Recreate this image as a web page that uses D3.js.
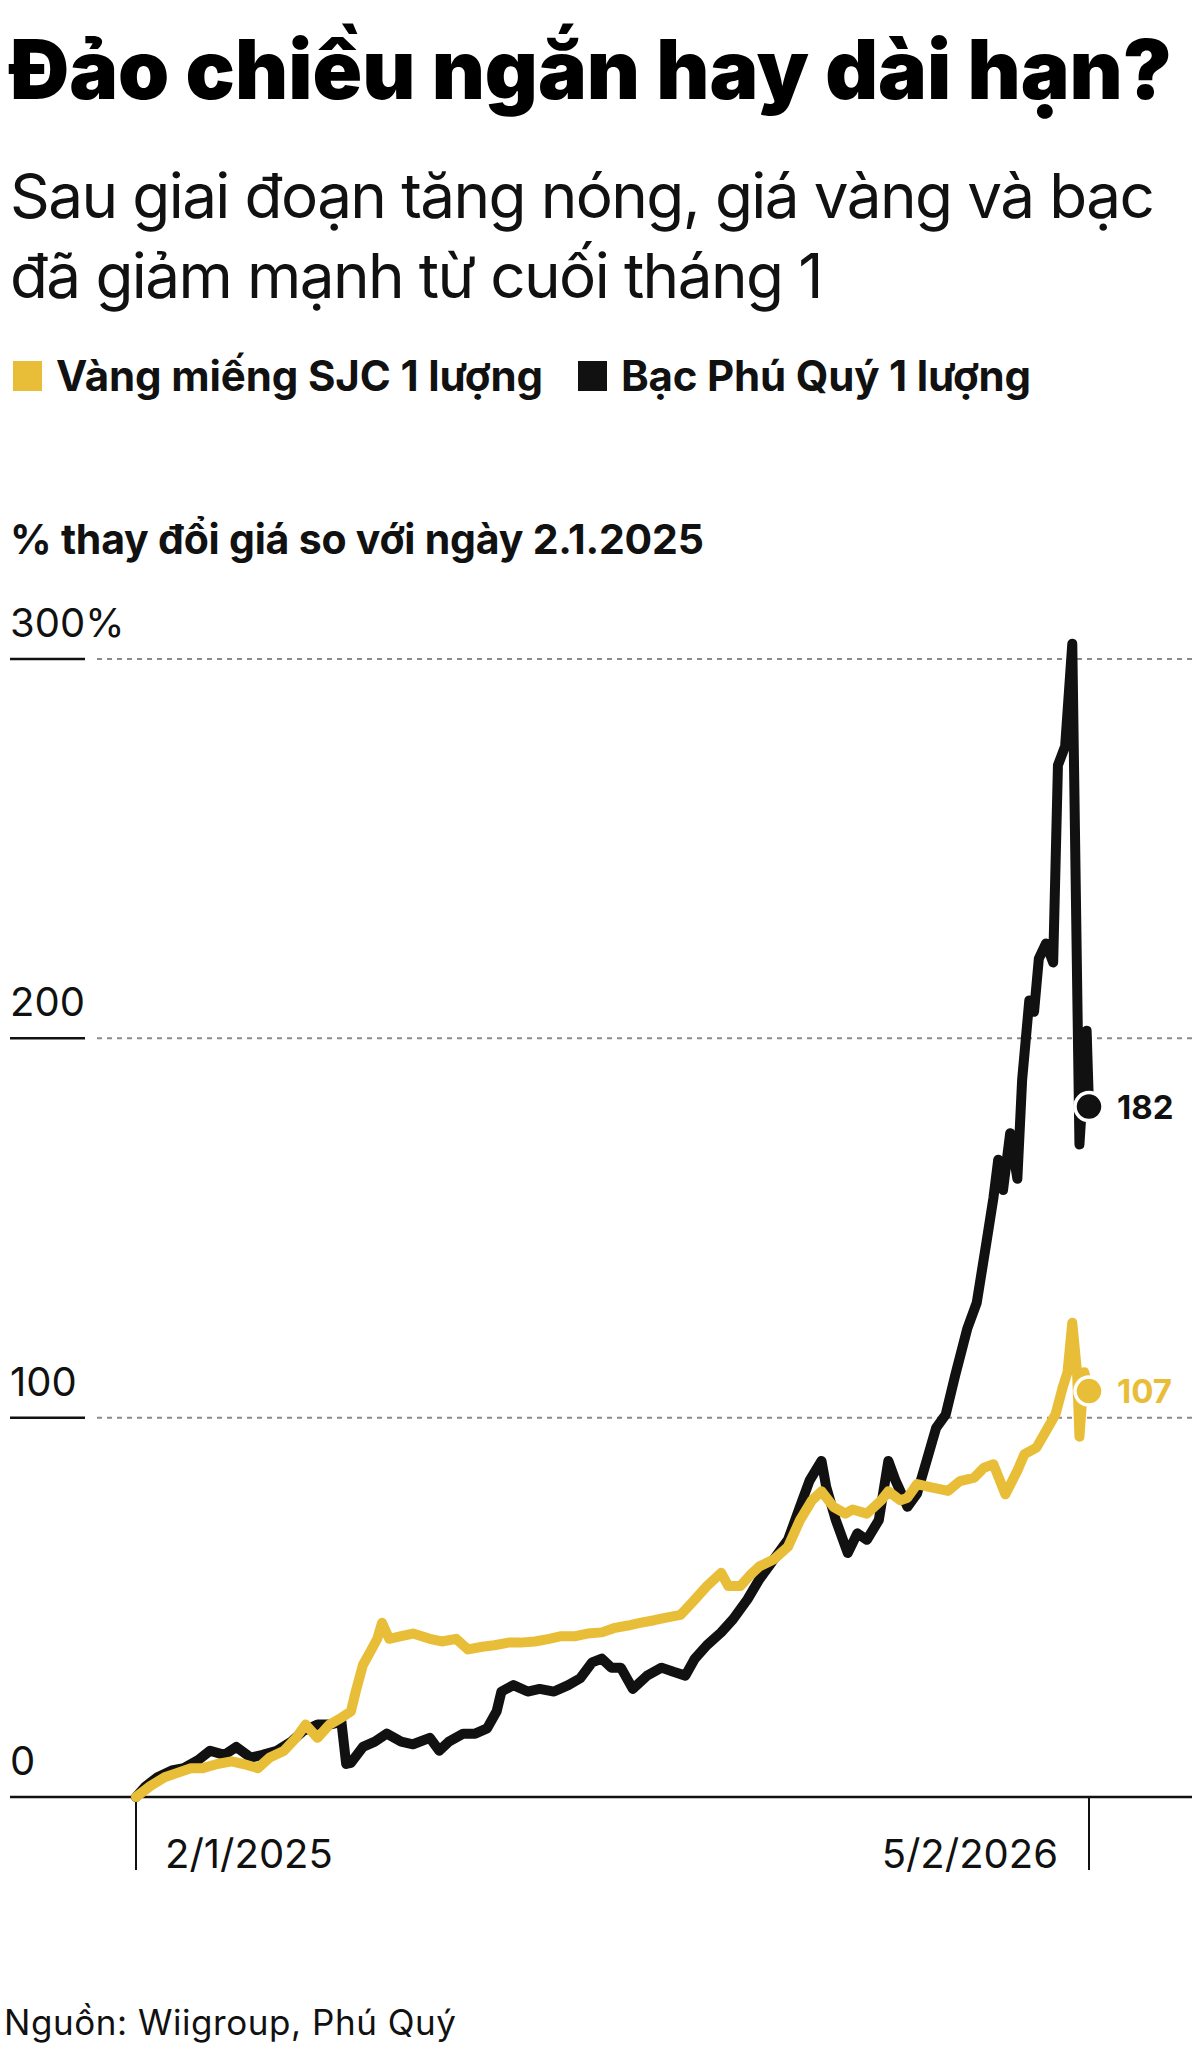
<!DOCTYPE html>
<html><head><meta charset="utf-8">
<script src="https://cdn.jsdelivr.net/npm/d3@7"></script>
<style>
html,body{margin:0;padding:0;background:#fff;}
svg{display:block;font-family:Inter,"Noto Sans",sans-serif;}
</style></head>
<body><svg id="c" width="1200" height="2072"></svg>
<script>
// ---------- DATA ----------
const titleText = "Đảo chiều ngắn hay dài hạn?";
const subtitleLines = ["Sau giai đoạn tăng nóng, giá vàng và bạc", "đã giảm mạnh từ cuối tháng 1"];
const seriesNames = ["Vàng miếng SJC 1 lượng", "Bạc Phú Quý 1 lượng"];
const axisTitle = "% thay đổi giá so với ngày 2.1.2025";
const yTicks = [0, 100, 200, 300];
const yTickLabels = ["0", "100", "200", "300%"];
const xTicks = ["2025-01-02", "2026-02-05"];
const xTickLabels = ["2/1/2025", "5/2/2026"];
const sourceText = "Nguồn: Wiigroup, Phú Quý";

const silverDates = ["2025-01-02","2025-01-06","2025-01-11","2025-01-17","2025-01-22","2025-01-28","2025-02-02","2025-02-08","2025-02-13","2025-02-19","2025-02-24","2025-03-02","2025-03-08","2025-03-13","2025-03-19","2025-03-24","2025-03-29","2025-03-31","2025-04-02","2025-04-07","2025-04-12","2025-04-17","2025-04-23","2025-04-28","2025-05-05","2025-05-09","2025-05-13","2025-05-19","2025-05-24","2025-05-29","2025-06-02","2025-06-04","2025-06-09","2025-06-15","2025-06-20","2025-06-26","2025-07-02","2025-07-07","2025-07-12","2025-07-16","2025-07-20","2025-07-24","2025-07-29","2025-08-04","2025-08-10","2025-08-15","2025-08-20","2025-08-24","2025-08-29","2025-09-04","2025-09-09","2025-09-15","2025-09-20","2025-09-26","2025-10-02","2025-10-07","2025-10-11","2025-10-16","2025-10-18","2025-10-22","2025-10-27","2025-10-31","2025-11-04","2025-11-09","2025-11-13","2025-11-16","2025-11-21","2025-11-25","2025-11-29","2025-12-03","2025-12-07","2025-12-11","2025-12-16","2025-12-20","2025-12-24","2025-12-27","2025-12-29","2025-12-31","2026-01-03","2026-01-06","2026-01-08","2026-01-11","2026-01-13","2026-01-15","2026-01-18","2026-01-21","2026-01-23","2026-01-26","2026-01-29","2026-02-01","2026-02-04","2026-02-05"];
const silverValues = [0,2.8,5.2,7.0,7.6,9.7,12.2,11.1,13.2,10.4,11.1,12.2,14.6,17.4,19.1,19.1,19.8,8.7,9.0,13.2,14.6,16.7,14.6,13.9,15.6,12.2,14.6,16.7,16.7,18.1,22.6,27.8,29.5,27.8,28.5,27.8,29.5,31.3,35.5,36.5,34.1,34.1,28.5,32,34.1,33,32,36.5,40,43.4,46.9,52.1,57.4,62.6,67.8,76.5,83.4,88.6,81.7,73,64.3,69.5,67.8,73,88.6,83.4,76.5,80,88.6,97.3,100.8,111.2,123.4,130.3,146,158,168,160,175,163,189,210,207,221,225,220,272,277,304,172,202,182];

const goldDates = ["2025-01-02","2025-01-08","2025-01-14","2025-01-19","2025-01-25","2025-01-30","2025-02-05","2025-02-11","2025-02-16","2025-02-22","2025-02-27","2025-03-05","2025-03-10","2025-03-14","2025-03-19","2025-03-24","2025-03-29","2025-04-02","2025-04-04","2025-04-07","2025-04-10","2025-04-13","2025-04-15","2025-04-18","2025-04-23","2025-04-28","2025-05-05","2025-05-10","2025-05-16","2025-05-21","2025-05-27","2025-06-01","2025-06-07","2025-06-12","2025-06-18","2025-06-24","2025-06-29","2025-07-05","2025-07-10","2025-07-16","2025-07-21","2025-07-27","2025-08-01","2025-08-07","2025-08-12","2025-08-18","2025-08-23","2025-08-29","2025-09-04","2025-09-07","2025-09-12","2025-09-16","2025-09-20","2025-09-26","2025-10-02","2025-10-07","2025-10-12","2025-10-16","2025-10-21","2025-10-26","2025-10-29","2025-11-04","2025-11-10","2025-11-13","2025-11-18","2025-11-21","2025-11-25","2025-12-01","2025-12-08","2025-12-13","2025-12-19","2025-12-23","2025-12-27","2026-01-01","2026-01-06","2026-01-09","2026-01-14","2026-01-18","2026-01-22","2026-01-25","2026-01-27","2026-01-29","2026-01-31","2026-02-01","2026-02-03","2026-02-05"];
const goldValues = [0,2.9,5.2,6.3,7.6,7.6,8.7,9.4,8.7,7.6,10.4,12.2,15.6,19.1,15.6,19.1,20.9,22.6,27.8,34.8,38.2,41.7,45.9,41.7,42.4,43.1,41.7,41,41.7,38.9,39.6,40,40.7,40.7,41,41.7,42.4,42.4,43.1,43.4,44.5,45.2,45.9,46.6,47.3,48,51.4,55.6,59.1,55.6,55.6,58.4,60.8,62.6,66,73,78.2,80.6,76.5,74.7,75.8,74.7,78.2,80.6,78.2,78.9,82.5,81.6,80.7,83.3,84.2,86.8,87.7,79.8,86,90.4,92.1,96.5,100.9,108,112,125,112,95,112,107];

const goldColor = "#E8BE39";
const silverColor = "#111111";

// ---------- CHART ----------
const parse = d3.timeParse("%Y-%m-%d");
const svg = d3.select("#c");

function fit(sel, target){
  const n = sel.text().length;
  const w = sel.node().getComputedTextLength();
  const ls = (target - w) / Math.max(1, n - 1);
  sel.attr("letter-spacing", ls.toFixed(2));
  return ls;
}

const t = svg.append("text").attr("x", 10).attr("y", 99)
  .attr("font-size", 82).attr("font-weight", 900).attr("fill", "#000").text(titleText);
fit(t, 1162);

const s1 = svg.append("text").attr("x", 10).attr("y", 218)
  .attr("font-size", 62).attr("font-weight", 400).attr("fill", "#111").text(subtitleLines[0]);
const ls = fit(s1, 1145);
svg.append("text").attr("x", 10).attr("y", 298)
  .attr("font-size", 62).attr("font-weight", 400).attr("fill", "#111")
  .attr("letter-spacing", ls.toFixed(2)).text(subtitleLines[1]);

// legend
const legendX = [13, 578];
const legendColors = [goldColor, silverColor];
seriesNames.forEach((name, i) => {
  svg.append("rect").attr("x", legendX[i]).attr("y", 361).attr("width", 29).attr("height", 30)
    .attr("fill", legendColors[i]);
  const lt = svg.append("text").attr("x", legendX[i] + 43).attr("y", 391)
    .attr("font-size", 42).attr("font-weight", 700).attr("fill", "#111").text(name);
  fit(lt, i === 0 ? 487 : 410);
});

const at = svg.append("text").attr("x", 10).attr("y", 554)
  .attr("font-size", 41).attr("font-weight", 700).attr("fill", "#111").text(axisTitle);
fit(at, 694);

const x = d3.scaleTime().domain([parse("2025-01-02"), parse("2026-02-05")]).range([136, 1089]);
const y = d3.scaleLinear().domain([0, 300]).range([1797, 659]);

// grid + y labels
yTicks.forEach((v, i) => {
  if (v > 0) {
    svg.append("line").attr("x1", 10).attr("x2", 85).attr("y1", y(v)).attr("y2", y(v))
      .attr("stroke", "#111").attr("stroke-width", 2.5);
    svg.append("line").attr("x1", 97).attr("x2", 1192).attr("y1", y(v)).attr("y2", y(v))
      .attr("stroke", "#8a8a8a").attr("stroke-width", 2).attr("stroke-dasharray", "5,5");
  }
  svg.append("text").attr("x", 10).attr("y", y(v) - 22)
    .attr("font-size", 40).attr("font-weight", 400).attr("fill", "#111").text(yTickLabels[i]);
});

// x axis
svg.append("line").attr("x1", 10).attr("x2", 1192).attr("y1", y(0)).attr("y2", y(0))
  .attr("stroke", "#111").attr("stroke-width", 2.5);
xTicks.forEach((d, i) => {
  const xx = x(parse(d));
  svg.append("line").attr("x1", xx).attr("x2", xx).attr("y1", y(0)).attr("y2", y(0) + 73)
    .attr("stroke", "#111").attr("stroke-width", 2);
  svg.append("text").attr("x", i === 0 ? xx + 29 : xx - 31).attr("y", 1868)
    .attr("text-anchor", i === 0 ? "start" : "end")
    .attr("font-size", 40).attr("font-weight", 400).attr("fill", "#111").text(xTickLabels[i]);
});

// lines
const line = d3.line().x(d => x(d.date)).y(d => y(d.value)).curve(d3.curveLinear);
const silver = silverDates.map((d, i) => ({date: parse(d), value: silverValues[i]}));
const gold = goldDates.map((d, i) => ({date: parse(d), value: goldValues[i]}));

svg.append("path").datum(silver).attr("d", line).attr("fill", "none")
  .attr("stroke", silverColor).attr("stroke-width", 10).attr("stroke-linejoin", "round").attr("stroke-linecap", "round");
svg.append("path").datum(gold).attr("d", line).attr("fill", "none")
  .attr("stroke", goldColor).attr("stroke-width", 10).attr("stroke-linejoin", "round").attr("stroke-linecap", "round");

// end dots + labels
[[silver, silverColor], [gold, goldColor]].forEach(([s, c]) => {
  const last = s[s.length - 1];
  svg.append("circle").attr("cx", x(last.date)).attr("cy", y(last.value)).attr("r", 14)
    .attr("fill", c).attr("stroke", "#fff").attr("stroke-width", 3.5);
  svg.append("text").attr("x", x(last.date) + 28).attr("y", y(last.value) + 12)
    .attr("font-size", 33).attr("font-weight", 700).attr("fill", c).text(d3.format("d")(last.value));
});

// source
const st = svg.append("text").attr("x", 4).attr("y", 2035)
  .attr("font-size", 35).attr("font-weight", 400).attr("fill", "#111").text(sourceText);
fit(st, 452);
</script>
</body></html>
